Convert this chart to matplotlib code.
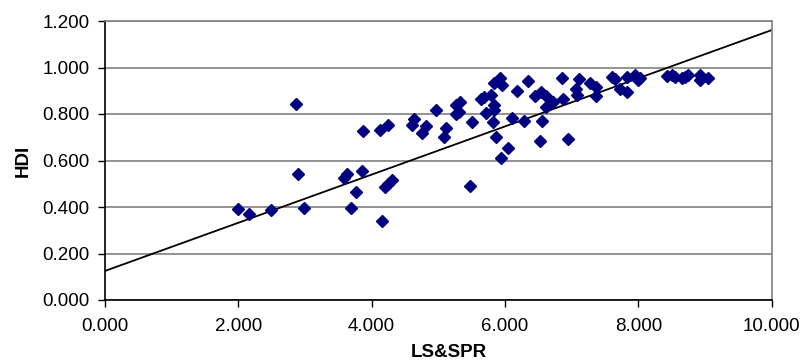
import numpy as np
import matplotlib
matplotlib.use("Agg")
import matplotlib.pyplot as plt
from matplotlib.ticker import FormatStrFormatter

# LS&SPR (x) and HDI (y) per country
ls_spr = [2.00, 2.16, 2.49, 2.87, 2.90, 2.98, 3.59, 3.63, 3.69, 3.76,
          3.85, 3.87, 4.12, 4.15, 4.20, 4.25, 4.24, 4.30, 4.60, 4.64,
          4.75, 4.82, 4.96, 5.09, 5.12, 5.27, 5.27, 5.31, 5.32, 5.48,
          5.51, 5.64, 5.68, 5.72, 5.79, 5.82, 5.84, 5.84, 5.84, 5.86,
          5.93, 5.94, 5.95, 6.04, 6.10, 6.18, 6.28, 6.35, 6.45, 6.52,
          6.54, 6.55, 6.61, 6.62, 6.72, 6.85, 6.87, 6.95, 7.06, 7.08,
          7.11, 7.27, 7.37, 7.37, 7.61, 7.65, 7.72, 7.83, 7.83, 7.95,
          8.00, 8.03, 8.43, 8.50, 8.55, 8.65, 8.70, 8.75, 8.93, 8.93,
          9.05]
hdi = [0.393, 0.368, 0.388, 0.843, 0.541, 0.394, 0.523, 0.541, 0.397, 0.463,
       0.555, 0.727, 0.733, 0.340, 0.487, 0.499, 0.754, 0.516, 0.751, 0.777,
       0.717, 0.750, 0.816, 0.701, 0.741, 0.799, 0.839, 0.810, 0.853, 0.492,
       0.766, 0.865, 0.872, 0.803, 0.882, 0.767, 0.839, 0.817, 0.932, 0.700,
       0.953, 0.611, 0.925, 0.652, 0.782, 0.900, 0.770, 0.940, 0.879, 0.684,
       0.896, 0.770, 0.829, 0.879, 0.850, 0.953, 0.866, 0.694, 0.906, 0.882,
       0.950, 0.935, 0.915, 0.879, 0.958, 0.950, 0.907, 0.960, 0.896, 0.968,
       0.946, 0.953, 0.963, 0.968, 0.958, 0.953, 0.960, 0.968, 0.968, 0.946,
       0.953]

# linear trendline as drawn in the chart (intercept, slope)
trend_intercept = 0.125
trend_slope = 0.1036

plt.rcParams['font.family'] = ['Liberation Sans', 'DejaVu Sans']

fig = plt.figure(figsize=(8.05, 3.6), dpi=100)
ax = fig.add_axes([105 / 805, 1 - 300 / 360, 666.7 / 805, 279 / 360])

ax.plot(ls_spr, hdi, linestyle='none', marker='D', markersize=5.8,
        color='#000080', zorder=3)

xs = np.array([0.0, 10.0])
ax.plot(xs, trend_intercept + trend_slope * xs, color='black', linewidth=1.3, zorder=2)

ax.set_xlim(0, 10)
ax.set_ylim(0, 1.2)
ax.set_xticks(np.arange(0, 10.01, 2))
ax.set_yticks(np.arange(0, 1.201, 0.2))
ax.xaxis.set_major_formatter(FormatStrFormatter('%.3f'))
ax.yaxis.set_major_formatter(FormatStrFormatter('%.3f'))
ax.tick_params(axis='both', direction='out', length=5, width=1, labelsize=13.5, pad=6)
ax.tick_params(axis='x', pad=8)

ax.yaxis.grid(True, color='#808080', linewidth=1.2)
ax.set_axisbelow(True)
for side in ('top', 'right'):
    ax.spines[side].set_color('#808080')
    ax.spines[side].set_linewidth(1.2)
for side in ('left', 'bottom'):
    ax.spines[side].set_color('black')
    ax.spines[side].set_linewidth(1.2)

ax.set_ylabel('HDI', fontsize=13.5, fontweight='bold', labelpad=8)
ax.set_xlabel('LS&SPR', fontsize=13.5, fontweight='bold')
ax.xaxis.set_label_coords(0.515, -0.158)

fig.savefig('out.png', dpi=100)
